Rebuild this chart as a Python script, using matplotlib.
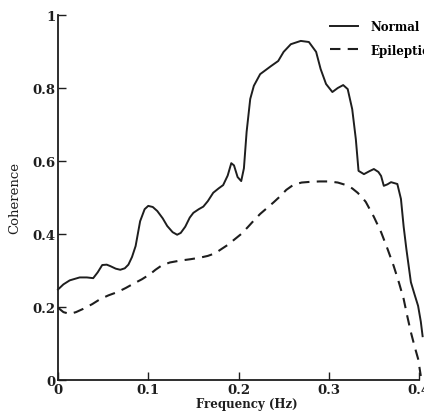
import matplotlib
matplotlib.use('Agg')
import matplotlib.pyplot as plt

# coherence curves
freq_normal = [0.000, 0.006, 0.013, 0.024, 0.032, 0.039, 0.044, 0.049, 0.054, 0.058,
               0.064, 0.069, 0.074, 0.078, 0.082, 0.086, 0.091, 0.096, 0.100, 0.105,
               0.110, 0.116, 0.121, 0.127, 0.132, 0.136, 0.141, 0.146, 0.150, 0.156,
               0.161, 0.166, 0.172, 0.178, 0.183, 0.188, 0.192, 0.195, 0.199, 0.203,
               0.206, 0.209, 0.213, 0.217, 0.224, 0.236, 0.244, 0.250, 0.258, 0.269,
               0.278, 0.286, 0.291, 0.297, 0.304, 0.310, 0.316, 0.321, 0.326, 0.330,
               0.333, 0.339, 0.345, 0.350, 0.355, 0.358, 0.361, 0.365, 0.369, 0.376,
               0.380, 0.383, 0.386, 0.391, 0.395, 0.399, 0.402, 0.404]
coh_normal = [0.248, 0.262, 0.273, 0.281, 0.281, 0.279, 0.295, 0.315, 0.316, 0.312,
              0.305, 0.302, 0.306, 0.316, 0.337, 0.367, 0.435, 0.468, 0.477, 0.474,
              0.463, 0.443, 0.422, 0.405, 0.398, 0.403, 0.420, 0.445, 0.458, 0.468,
              0.475, 0.490, 0.513, 0.525, 0.534, 0.560, 0.594, 0.588, 0.556, 0.545,
              0.580, 0.680, 0.770, 0.806, 0.838, 0.860, 0.874, 0.899, 0.920, 0.929,
              0.926, 0.899, 0.852, 0.811, 0.789, 0.800, 0.808, 0.797, 0.742, 0.660,
              0.573, 0.564, 0.572, 0.578, 0.570, 0.559, 0.532, 0.536, 0.542, 0.537,
              0.496, 0.420, 0.359, 0.268, 0.235, 0.203, 0.160, 0.120]

freq_epi = [0.000, 0.006, 0.013, 0.020, 0.028, 0.038, 0.047, 0.056, 0.066, 0.075,
            0.083, 0.093, 0.102, 0.108, 0.115, 0.124, 0.135, 0.147, 0.157, 0.166,
            0.174, 0.180, 0.188, 0.195, 0.203, 0.210, 0.217, 0.224, 0.232, 0.239,
            0.246, 0.253, 0.261, 0.270, 0.280, 0.290, 0.300, 0.310, 0.318, 0.326,
            0.332, 0.337, 0.341, 0.350, 0.358, 0.365, 0.372, 0.378, 0.383, 0.387,
            0.391, 0.395, 0.399, 0.402]
coh_epi = [0.198, 0.186, 0.181, 0.186, 0.195, 0.208, 0.222, 0.232, 0.241, 0.252,
           0.263, 0.276, 0.290, 0.302, 0.314, 0.322, 0.327, 0.331, 0.335, 0.340,
           0.347, 0.357, 0.370, 0.384, 0.400, 0.418, 0.437, 0.455, 0.472, 0.487,
           0.503, 0.521, 0.535, 0.541, 0.543, 0.544, 0.544, 0.541, 0.535, 0.525,
           0.513, 0.500, 0.488, 0.447, 0.405, 0.360, 0.312, 0.265, 0.222, 0.175,
           0.131, 0.093, 0.058, 0.011]

xticks = [0, 0.1, 0.2, 0.3, 0.4]
xtick_labels = ['0', '0.1', '0.2', '0.3', '0.4']
yticks = [0, 0.2, 0.4, 0.6, 0.8, 1]
ytick_labels = ['0', '0.2', '0.4', '0.6', '0.8', '1']

ink = '#1e1e1e'
fnt = 'DejaVu Serif'

fig = plt.figure(figsize=(4.24, 4.14), dpi=100)
ax = fig.add_axes([58/424, 33/414, 361/424, 365/414])

ax.plot(freq_normal, coh_normal, color=ink, lw=1.4, clip_on=False, label='Normal')
ax.plot(freq_epi, coh_epi, color=ink, lw=1.5, ls=(0, (5, 3.5)), clip_on=False, label='Epileptic')

ax.set_xlim(0, 0.4)
ax.set_ylim(0, 1)
for s in ['top', 'right']:
    ax.spines[s].set_visible(False)
for s in ['left', 'bottom']:
    ax.spines[s].set_linewidth(1.3)
    ax.spines[s].set_color(ink)

ax.set_xticks(xticks)
ax.set_xticklabels(xtick_labels, fontfamily=fnt, fontweight='bold', fontsize=9.5)
ax.set_yticks(yticks)
ax.set_yticklabels(ytick_labels, fontfamily=fnt, fontweight='bold', fontsize=9.5)
ax.tick_params(direction='in', length=6, width=1, colors=ink, pad=2)

ax.set_ylabel('Coherence', fontfamily=fnt, fontsize=9.5, color=ink, labelpad=8)
fig.text(247/424, 1 - 405/414, 'Frequency (Hz)', fontfamily=fnt, fontweight='bold',
         fontsize=8.5, color=ink, ha='center', va='center')

leg = fig.legend(loc='upper left', bbox_to_anchor=(330/424, 1 - 21/414), frameon=False,
                 borderpad=0, borderaxespad=0, handlelength=2.4, handletextpad=1.0,
                 labelspacing=0.9, prop={'family': fnt, 'weight': 'bold', 'size': 8.5})

plt.savefig('out.png', dpi=100)
